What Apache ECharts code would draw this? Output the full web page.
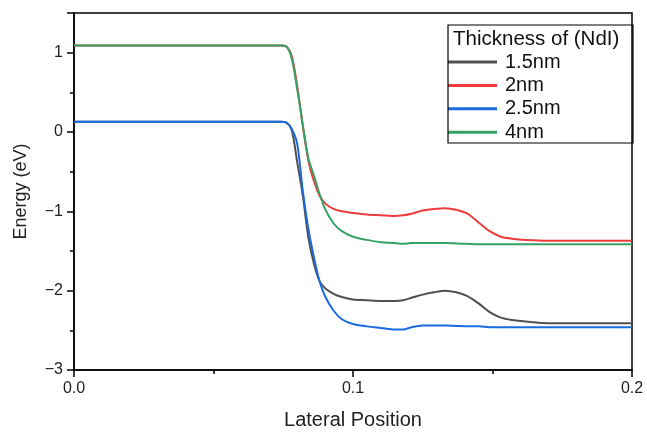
<!DOCTYPE html>
<html>
<head>
    <meta charset="utf-8" />
    <title>Energy vs Lateral Position</title>
    <script src="https://cdn.jsdelivr.net/npm/echarts@6/dist/echarts.min.js"></script>
    <style type="text/css">
        html,
        body {
            width: 100%;
            height: 100%;
            margin: 0;
            background: #fff;
        }

        #chart {
            width: 647px;
            height: 435px;
        }
    </style>
</head>

<body>
    <div id="chart"></div>
    <script>
        // data
        var xs = [0, 0.070, 0.074, 0.076, 0.078, 0.080, 0.082, 0.084, 0.086, 0.088, 0.090, 0.093, 0.096, 0.100,
            0.105, 0.110, 0.115, 0.118, 0.121, 0.125, 0.129, 0.133, 0.137, 0.141, 0.145, 0.149, 0.153, 0.157,
            0.162, 0.170, 0.180, 0.200];
        var y15 = [0.13, 0.13, 0.13, 0.12, 0.03, -0.38, -0.80, -1.33, -1.66, -1.88, -1.97, -2.04, -2.08, -2.11,
            -2.12, -2.13, -2.13, -2.12, -2.09, -2.05, -2.02, -2.00, -2.02, -2.07, -2.16, -2.27, -2.34, -2.37,
            -2.39, -2.41, -2.41, -2.41];
        var y2 = [1.09, 1.09, 1.09, 1.08, 0.96, 0.58, 0.08, -0.36, -0.62, -0.80, -0.90, -0.97, -1.00, -1.02,
            -1.04, -1.05, -1.06, -1.05, -1.03, -0.99, -0.97, -0.96, -0.98, -1.03, -1.14, -1.25, -1.32, -1.345,
            -1.36, -1.37, -1.37, -1.37];
        var y25 = [0.13, 0.13, 0.13, 0.12, 0.04, -0.15, -0.74, -1.22, -1.58, -1.88, -2.07, -2.25, -2.36, -2.42,
            -2.45, -2.47, -2.49, -2.49, -2.46, -2.44, -2.44, -2.44, -2.445, -2.45, -2.45, -2.46, -2.46, -2.46,
            -2.46, -2.46, -2.46, -2.46];
        var y4 = [1.09, 1.09, 1.09, 1.08, 0.93, 0.54, 0.09, -0.33, -0.55, -0.78, -0.97, -1.15, -1.25, -1.32,
            -1.36, -1.39, -1.40, -1.41, -1.40, -1.40, -1.40, -1.40, -1.405, -1.41, -1.415, -1.415, -1.415, -1.415,
            -1.415, -1.415, -1.415, -1.415];
        var names = ['1.5nm', '2nm', '2.5nm', '4nm'];
        var colors = ['#505050', '#ee3b3b', '#1a6be0', '#35a265'];
        var xTicks = ['0.0', '0.1', '0.2'];
        var yTicks = [-3, -2, -1, 0, 1];
        var legendTitle = 'Thickness of (NdI)';

        function pairs(ys) {
            return xs.map(function (x, i) { return [x, ys[i]]; });
        }

        var font = 'Arial, "Liberation Sans", sans-serif';
        var myChart = echarts.init(document.getElementById('chart'));

        var series = [y15, y2, y25, y4].map(function (ys, i) {
            return {
                name: names[i],
                type: 'line',
                data: pairs(ys),
                showSymbol: false,
                smooth: 0.3,
                lineStyle: { width: 2, color: colors[i] },
                itemStyle: { color: colors[i] }
            };
        });

        var axisLine = { show: true, onZero: false, lineStyle: { color: '#000', width: 1.5 } };
        var tick = { show: true, length: 7, lineStyle: { color: '#000', width: 1.5 } };
        var minor = { show: true, splitNumber: 2, length: 4, lineStyle: { color: '#000', width: 1.5 } };

        var option = {
            animation: false,
            grid: {
                left: 74, right: 15, top: 13, bottom: 56,
                show: true, borderColor: '#000', borderWidth: 1.5
            },
            xAxis: {
                type: 'value',
                min: 0, max: 0.2, interval: 0.1,
                name: 'Lateral Position',
                nameLocation: 'middle',
                nameGap: 40,
                nameTextStyle: { fontSize: 20, color: '#222', fontFamily: font },
                axisLine: axisLine,
                axisTick: tick,
                minorTick: minor,
                axisLabel: {
                    fontSize: 16, color: '#222', fontFamily: font, margin: 11,
                    formatter: function (v) { return xTicks[Math.round(v * 10)]; }
                },
                splitLine: { show: false }
            },
            yAxis: {
                type: 'value',
                min: -3, max: 1.5, interval: 1,
                name: 'Energy (eV)',
                nameLocation: 'middle',
                nameGap: 44,
                nameTextStyle: { fontSize: 18, color: '#222', fontFamily: font },
                axisLine: axisLine,
                axisTick: tick,
                minorTick: minor,
                axisLabel: {
                    fontSize: 16, color: '#222', fontFamily: font, margin: 11,
                    showMaxLabel: false,
                    formatter: function (v) {
                        if (yTicks.indexOf(v) < 0) return '';
                        return v < 0 ? '\u2212' + Math.abs(v) : String(v);
                    }
                },
                splitLine: { show: false }
            },
            legend: {
                data: names,
                orient: 'vertical',
                left: 448, top: 52,
                padding: 0,
                itemWidth: 49, itemHeight: 3,
                itemGap: 3.4,
                icon: 'rect',
                textStyle: { fontSize: 20, color: '#111', fontFamily: font, lineHeight: 20, padding: [0, 0, 0, 3] }
            },
            graphic: [{
                type: 'rect',
                shape: { x: 448, y: 25, width: 185, height: 118 },
                style: { fill: 'none', stroke: '#000', lineWidth: 1.2 },
                z: 10
            }, {
                type: 'text',
                left: 453, top: 29,
                style: { text: legendTitle, font: '20.5px ' + font, fill: '#111' },
                z: 10
            }],
            series: series
        };

        myChart.setOption(option);
    </script>
</body>
</html>
